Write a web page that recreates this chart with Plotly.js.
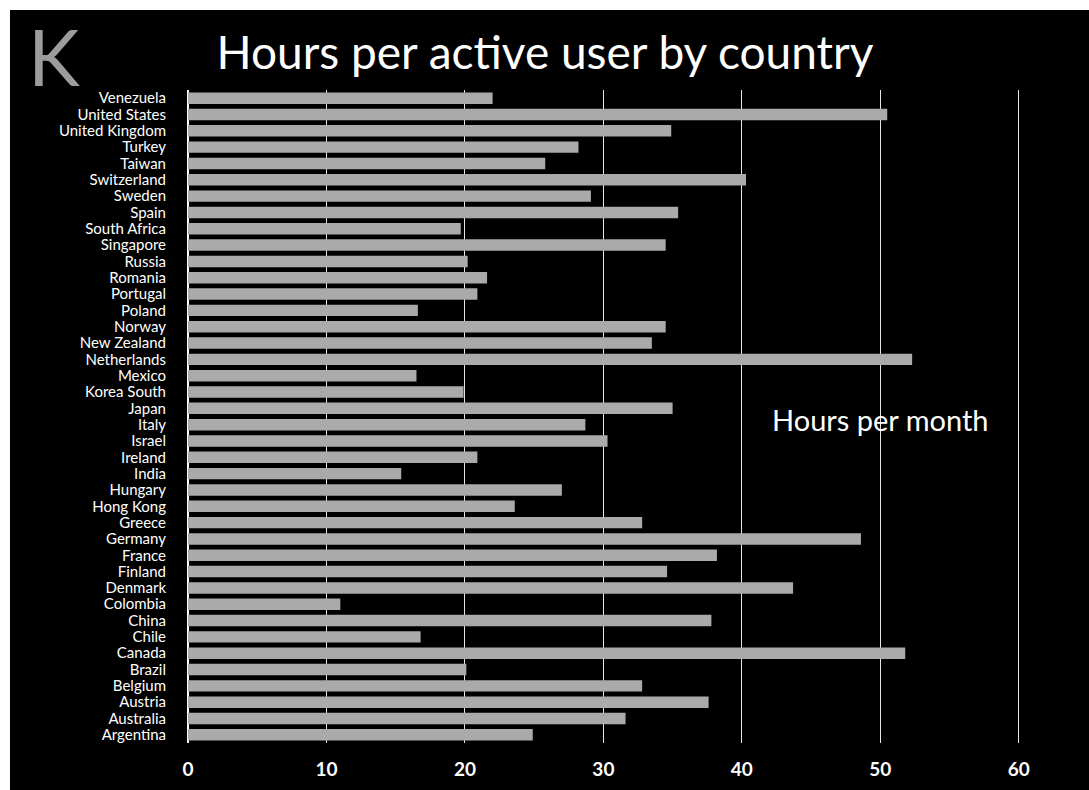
<!DOCTYPE html>
<html>
<head>
<meta charset="utf-8">
<script src="https://cdn.plot.ly/plotly-3.0.1.min.js"></script>
<style>
  html, body { margin: 0; padding: 0; background: #ffffff; }
  #chart { position: absolute; left: 0; top: 0; width: 1089px; height: 790px; }
</style>
</head>
<body>
<div id="chart"></div>
<script>
// Countries, listed from the top row of the chart down
const countries = [
  "Venezuela", "United States", "United Kingdom", "Turkey", "Taiwan",
  "Switzerland", "Sweden", "Spain", "South Africa", "Singapore",
  "Russia", "Romania", "Portugal", "Poland", "Norway",
  "New Zealand", "Netherlands", "Mexico", "Korea South", "Japan",
  "Italy", "Israel", "Ireland", "India", "Hungary",
  "Hong Kong", "Greece", "Germany", "France", "Finland",
  "Denmark", "Colombia", "China", "Chile", "Canada",
  "Brazil", "Belgium", "Austria", "Australia", "Argentina"
];

// Hours per month for each active user
const hoursPerMonth = [
  22.0, 50.5, 34.9, 28.2, 25.8,
  40.3, 29.1, 35.4, 19.7, 34.5,
  20.2, 21.6, 20.9, 16.6, 34.5,
  33.5, 52.3, 16.5, 19.9, 35.0,
  28.7, 30.3, 20.9, 15.4, 27.0,
  23.6, 32.8, 48.6, 38.2, 34.6,
  43.7, 11.0, 37.8, 16.8, 51.8,
  20.1, 32.8, 37.6, 31.6, 24.9
];

const xTicks = [0, 10, 20, 30, 40, 50, 60];

const FONT = "Lato, 'Open Sans', sans-serif";

const trace = {
  type: "bar",
  orientation: "h",
  x: hoursPerMonth,
  y: countries,
  marker: { color: "#aaaaaa", line: { width: 0 } },
  hoverinfo: "skip"
};

const layout = {
  width: 1089,
  height: 790,
  paper_bgcolor: "#ffffff",
  plot_bgcolor: "#000000",
  margin: { l: 188, r: 1, t: 90, b: 47 },
  bargap: 0.3,
  showlegend: false,
  title: {
    text: "Hours per active user by country",
    font: { family: FONT, size: 46, color: "#ffffff" },
    xref: "container", x: 0.5005, xanchor: "center",
    yref: "container", y: 0.933, yanchor: "middle"
  },
  // black slide panel behind the whole chart, leaving a thin white edge top and left
  shapes: [
    {
      type: "rect", layer: "below",
      xref: "paper", yref: "paper",
      x0: -0.1978, x1: 1.0012, y0: -0.0721, y1: 1.1226,
      fillcolor: "#000000", line: { width: 0 }
    }
  ],
  xaxis: {
    range: [0, 65],
    tickvals: xTicks,
    ticktext: xTicks.map(String),
    showgrid: true,
    gridcolor: "#e6e6e6",
    gridwidth: 1,
    zeroline: true,
    zerolinecolor: "#ffffff",
    zerolinewidth: 1,
    showline: false,
    ticks: "outside",
    ticklen: 9,
    tickcolor: "rgba(0,0,0,0)",
    tickfont: { family: FONT, size: 19, color: "#ffffff", weight: "bold" },
    fixedrange: true
  },
  yaxis: {
    type: "category",
    autorange: "reversed",
    tickmode: "array",
    tickvals: countries,
    ticktext: countries,
    showgrid: false,
    zeroline: false,
    showline: true,
    linecolor: "#ffffff",
    linewidth: 1,
    ticks: "outside",
    ticklen: 18,
    tickcolor: "rgba(0,0,0,0)",
    tickfont: { family: FONT, size: 15, color: "#ffffff" },
    fixedrange: true
  },
  annotations: [
    {
      text: "K",
      xref: "paper", yref: "paper",
      x: -0.18, y: 1.052,
      xanchor: "left", yanchor: "middle",
      showarrow: false,
      font: { family: FONT, size: 78, color: "#9c9c9c", weight: 400 }
    },
    {
      text: "Hours per month",
      xref: "paper", yref: "paper",
      x: 0.769, y: 0.495,
      xanchor: "center", yanchor: "middle",
      showarrow: false,
      font: { family: FONT, size: 29, color: "#ffffff" }
    }
  ]
};

Plotly.newPlot("chart", [trace], layout, { displayModeBar: false, staticPlot: true });
</script>
</body>
</html>
